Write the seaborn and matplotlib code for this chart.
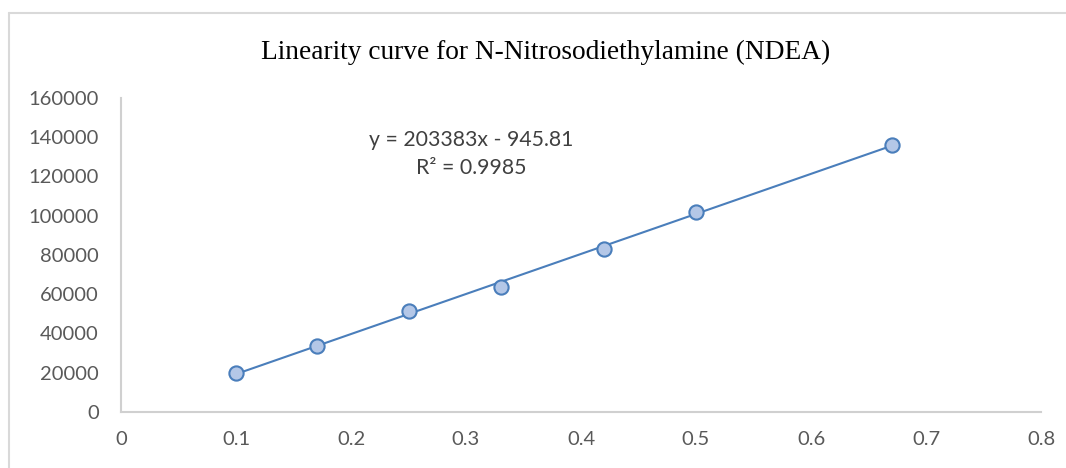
import numpy as np
import matplotlib
matplotlib.use("Agg")
import matplotlib.pyplot as plt
import seaborn as sns
import pandas as pd
from matplotlib.lines import Line2D

concentration = [0.1, 0.17, 0.25, 0.33, 0.42, 0.5, 0.67]
area = [19900, 33700, 51500, 63700, 83300, 101900, 136300]
x_ticks = [0, 0.1, 0.2, 0.3, 0.4, 0.5, 0.6, 0.7, 0.8]
y_ticks = [0, 20000, 40000, 60000, 80000, 100000, 120000, 140000, 160000]
title = "Linearity curve for N-Nitrosodiethylamine (NDEA)"
eq_text = "y = 203383x - 945.81\nR² = 0.9985"

df = pd.DataFrame({"conc": concentration, "area": area})

sns.set_theme(style="white")
plt.rcParams['font.family'] = ['Lato', 'DejaVu Sans']

fig = plt.figure(figsize=(10.66, 4.68), dpi=100)
ax = fig.add_axes([121/1066, 1-412/468, (1041-121)/1066, (412-98)/468])

# trendline
coef = np.polyfit(df["conc"], df["area"], 1)
xs = np.array([min(concentration), max(concentration)])
ax.plot(xs, np.polyval(coef, xs), color="#4a7ebb", lw=1.5, zorder=2)

sns.scatterplot(data=df, x="conc", y="area", ax=ax, s=105, color="#b4c7e7",
                edgecolor="#4a7ebb", linewidth=1.5, zorder=3)

ax.set_xlim(0, 0.8)
ax.set_ylim(0, 160000)
ax.set_xticks(x_ticks)
ax.set_xticklabels([f"{v:g}" for v in x_ticks])
ax.set_yticks(y_ticks)
ax.set_yticklabels([str(v) for v in y_ticks])
ax.tick_params(axis="both", labelsize=14.5, labelcolor="#595959", length=0)
ax.tick_params(axis="y", pad=16)
ax.tick_params(axis="x", pad=14)
ax.set_xlabel("")
ax.set_ylabel("")
for s in ["top", "right"]:
    ax.spines[s].set_visible(False)
for s in ["left", "bottom"]:
    ax.spines[s].set_color("#d0d0d0")
    ax.spines[s].set_linewidth(1.5)

fig.text(546/1066, 1-52/468, title, ha="center", va="center",
         fontsize=19.7, family=["Liberation Serif"], color="#000000")
ax.text(0.3043, 143500, eq_text, ha="center", va="top", fontsize=15.3,
        color="#404040", linespacing=1.45)

# outer chart border (top and left visible)
fig.add_artist(Line2D([9/1066, 1], [1-13/468, 1-13/468], color="#d9d9d9", lw=1.5))
fig.add_artist(Line2D([9/1066, 9/1066], [0, 1-13/468], color="#d9d9d9", lw=1.5))

fig.savefig("out.png", dpi=100)
